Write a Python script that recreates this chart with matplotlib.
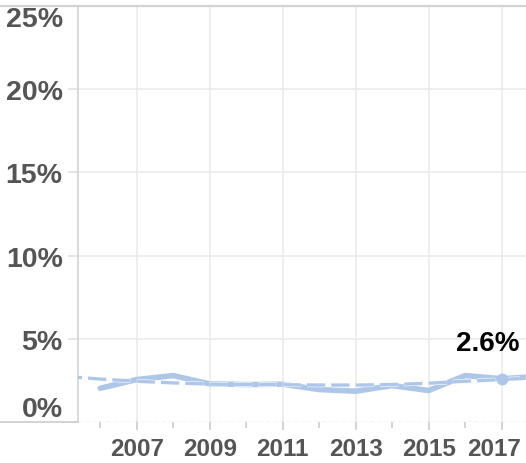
import matplotlib
matplotlib.use("Agg")
import matplotlib.pyplot as plt
import matplotlib.patheffects as pe
import matplotlib.transforms as mtransforms
from matplotlib.lines import Line2D

# data
years = [2006, 2007, 2008, 2009, 2010, 2011, 2012, 2013, 2014, 2015, 2016, 2017, 2018]
rate = [2.03, 2.55, 2.79, 2.29, 2.25, 2.27, 1.95, 1.85, 2.19, 1.89, 2.79, 2.6, 2.74]
trend_years = [2005, 2006, 2007, 2008, 2009, 2010, 2011, 2012, 2013, 2014, 2015, 2016, 2017, 2018]
trend = [2.75, 2.58, 2.45, 2.35, 2.28, 2.25, 2.24, 2.22, 2.22, 2.25, 2.33, 2.45, 2.55, 2.68]
label_year = 2017
yticks = [0, 5, 10, 15, 20, 25]
major_years = [2007, 2009, 2011, 2013, 2015, 2017]
minor_years = [2006, 2008, 2010, 2012, 2014, 2016]

BLUE = "#aec7e8"
GRID = "#ebebeb"
AXIS = "#d3d3d3"
TXT = "#555555"

plt.rcParams["font.family"] = ["Liberation Sans", "DejaVu Sans"]
plt.rcParams["font.weight"] = "bold"

W, H = 526, 464
fig = plt.figure(figsize=(W / 100, H / 100), dpi=100)
ax = fig.add_axes([78 / W, 1 - 423 / H, 1 - 78 / W, (423 - 7) / H])

ax.set_xlim(2005.39, 2017.67)
ax.set_ylim(0, 25)

# grid
for y in yticks[1:-1]:
    ax.axhline(y, color=GRID, lw=1.2, zorder=0)
for x in major_years:
    ax.axvline(x, color=GRID, lw=1.2, zorder=0)
ax.axhline(0, color="#cccccc", lw=1, ls=(0, (3, 2)), zorder=1)

# lines
ax.plot(years, rate, color=BLUE, lw=4, solid_capstyle="round",
        solid_joinstyle="round", zorder=3)
ax.plot(trend_years, trend, color=BLUE, lw=2.4, ls=(0, (5.5, 1.8)), zorder=4,
        path_effects=[pe.Stroke(linewidth=3.2, foreground="white"), pe.Normal()])
i = years.index(label_year)
ax.plot([years[i]], [rate[i]], "o", color=BLUE, ms=7.5, zorder=5)
ax.annotate(f"{rate[i]:.1f}%", (years[i], rate[i]), xytext=(-14, 29),
            textcoords="offset pixels", ha="center", va="baseline",
            fontsize=20, fontweight="bold", color="black", zorder=6)

# spines
for s in ["top", "right", "bottom"]:
    ax.spines[s].set_visible(False)
ax.spines["left"].set_color(AXIS)
ax.spines["left"].set_linewidth(1.2)

# ticks
ax.set_yticks(yticks)
ax.set_yticklabels([f"{v}%" for v in yticks])
ax.tick_params(axis="y", length=7, color="#e0e0e0", width=1.2, pad=4,
               labelsize=20.5, labelcolor=TXT)
labs = ax.get_yticklabels()
labs[0].set_va("bottom")
labs[-1].set_va("top")

ax.set_xticks(major_years)
ax.set_xticklabels([str(y) for y in major_years])
ax.set_xticks(minor_years, minor=True)
ax.tick_params(axis="x", which="major", length=6, color="#cccccc", width=1.2,
               pad=4.5, labelsize=17.5, labelcolor=TXT)
ax.tick_params(axis="x", which="minor", length=4, color="#cccccc", width=1.2)
for t in ax.get_xticklabels() + ax.get_yticklabels():
    t.set_fontweight("bold")

# last year label is pulled left so it stays inside the figure
last = ax.get_xticklabels()[-1]
last.set_transform(last.get_transform() +
                   mtransforms.ScaledTranslation(-7 / 100, 0, fig.dpi_scale_trans))

# frame lines outside the axes
fig.add_artist(Line2D([0, 1], [1 - 7 / H, 1 - 7 / H], color=AXIS, lw=1.6))
fig.add_artist(Line2D([0, 78 / W], [1 - 422.5 / H, 1 - 422.5 / H], color=AXIS, lw=1.4))

fig.savefig("out.png", dpi=100)
